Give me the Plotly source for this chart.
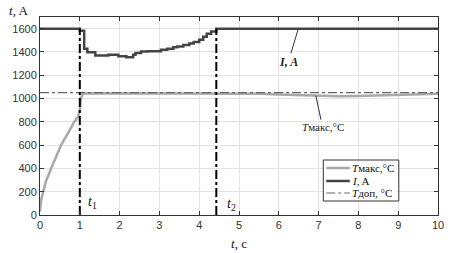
import plotly.graph_objects as go

# Current I, A (stepwise)
I_t = [0, 1.0, 1.11, 1.19, 1.39, 1.72, 1.97, 2.17, 2.34, 2.4, 2.54, 2.7, 3.04, 3.2, 3.35, 3.45, 3.6, 3.75, 3.86, 4.0, 4.1, 4.19, 4.3, 4.43, 10]
I_v = [1600, 1582, 1427, 1398, 1369, 1375, 1364, 1355, 1375, 1390, 1404, 1405, 1418, 1428, 1440, 1447, 1460, 1472, 1485, 1505, 1530, 1556, 1575, 1600, 1600]

# Tmax, °C
T_t = [0, 0.03, 0.08, 0.15, 0.28, 0.4, 0.53, 0.7, 0.86, 0.95, 1.0, 1.03, 1.07, 1.2, 2, 3, 4, 5, 5.5, 6, 6.5, 7, 7.5, 8, 8.5, 9, 9.5, 10]
T_v = [30, 130, 200, 290, 400, 500, 600, 700, 800, 840, 900, 1000, 1040, 1045, 1045, 1045, 1045, 1043, 1040, 1035, 1028, 1022, 1020, 1022, 1026, 1030, 1035, 1040]

# Tдоп, °C
Tdop_t = [0, 10]
Tdop_v = [1050, 1050]

# moments t1, t2
t_marks = [1.0, 4.43]
t_mark_top = 1600

names = ["<i>T</i>макс,°C", "<i>I</i>, A", "<i>T</i>доп, °C"]
colors = ["#a8a8a8", "#444444", "#666666"]
widths = [2.5, 2.5, 1.2]
dashes = ["solid", "solid", "dashdot"]

serif = "Liberation Serif"
sans = "Liberation Sans"

fig = go.Figure()
fig.add_trace(go.Scatter(x=T_t, y=T_v, mode="lines", name=names[0], showlegend=False,
                         line=dict(color=colors[0], width=widths[0])))
fig.add_trace(go.Scatter(x=I_t, y=I_v, mode="lines", name=names[1], line_shape="hv", showlegend=False,
                         line=dict(color=colors[1], width=widths[1])))
fig.add_trace(go.Scatter(x=Tdop_t, y=Tdop_v, mode="lines", name=names[2], showlegend=False,
                         line=dict(color=colors[2], width=widths[2], dash=dashes[2])))
for tm in t_marks:
    fig.add_trace(go.Scatter(x=[tm, tm], y=[0, t_mark_top], mode="lines", showlegend=False,
                             line=dict(color="#000000", width=2, dash="dashdot")))

axis_common = dict(showgrid=True, gridcolor="#e3e3e3", gridwidth=1, zeroline=False,
                   showline=True, linecolor="#333333", linewidth=1, mirror="ticks",
                   ticks="inside", ticklen=4, tickcolor="#333333",
                   tickfont=dict(family=sans, size=11, color="#333333"))
fig.update_xaxes(range=[0, 10], dtick=1, **axis_common)
fig.update_yaxes(range=[0, 1700], dtick=200, **axis_common)

fig.add_annotation(x=6.49, y=1600, ax=6.24, ay=1315, axref="x", ayref="y", text="<i><b>I, A</b></i>",
                   showarrow=True, arrowhead=0, arrowwidth=1, arrowcolor="#333333",
                   font=dict(family=serif, size=12, color="#222222"))
fig.add_annotation(x=6.93, y=1025, ax=7.1, ay=754, axref="x", ayref="y", text="<i>T</i>макс,°C",
                   showarrow=True, arrowhead=0, arrowwidth=1, arrowcolor="#333333",
                   font=dict(family=serif, size=11, color="#222222"))
fig.add_annotation(x=1.31, y=107, text="<i>t</i><sub>1</sub>", showarrow=False,
                   font=dict(family=serif, size=14, color="#111111"))
fig.add_annotation(x=4.81, y=90, text="<i>t</i><sub>2</sub>", showarrow=False,
                   font=dict(family=serif, size=14, color="#111111"))
fig.add_annotation(xref="paper", yref="paper", x=-0.084, y=1.035, xanchor="left", yanchor="middle",
                   text="<i>t</i>, A", showarrow=False,
                   font=dict(family=serif, size=13, color="#111111"))
fig.add_annotation(xref="paper", yref="paper", x=0.5, y=-0.145, xanchor="center", yanchor="middle",
                   text="<i>t</i>, c", showarrow=False,
                   font=dict(family=serif, size=13, color="#111111"))

# manual legend (compact, like the reference)
L, R, T, B = 37, 443, 17, 215
def px(x):
    return (x - L) / (R - L)
def py(y):
    return (B - y) / (B - T)

fig.add_shape(type="rect", xref="paper", yref="paper",
              x0=px(326), x1=px(403), y0=py(201), y1=py(160),
              fillcolor="white", line=dict(color="#333333", width=1), layer="above")
rows = [168, 181, 193]
for i, yy in enumerate(rows):
    fig.add_shape(type="line", xref="paper", yref="paper",
                  x0=px(329), x1=px(353), y0=py(yy), y1=py(yy), layer="above",
                  line=dict(color=colors[i], width=widths[i] if i < 2 else 1.2, dash=dashes[i]))
    fig.add_annotation(xref="paper", yref="paper", x=px(353), y=py(yy), xanchor="left", yanchor="middle",
                       text=names[i], showarrow=False,
                       font=dict(family=serif, size=11, color="#111111"))

fig.update_layout(
    width=456, height=253,
    margin=dict(l=37, r=13, t=17, b=38),
    plot_bgcolor="white", paper_bgcolor="white",
    showlegend=False,
)

fig.write_html("out.html")
